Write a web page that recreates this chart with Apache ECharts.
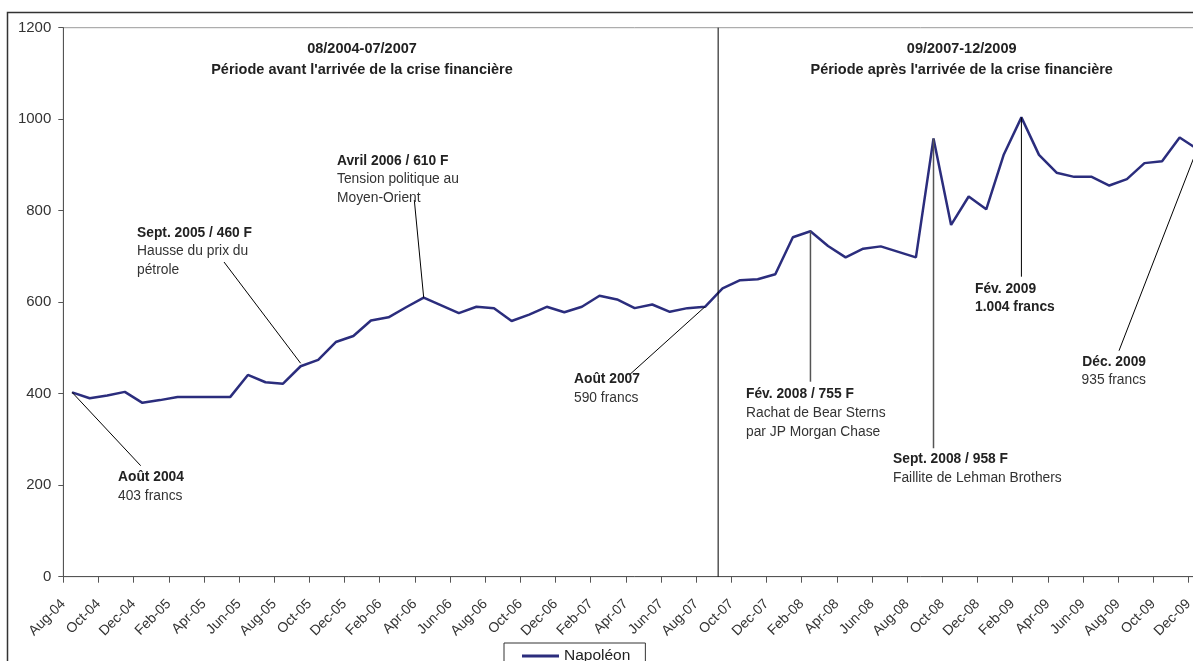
<!DOCTYPE html>
<html><head><meta charset="utf-8">
<script src="https://cdn.jsdelivr.net/npm/echarts@6/dist/echarts.min.js"></script>
<style>html,body{margin:0;padding:0;background:#fff;overflow:hidden}#c{width:1206px;height:661px}</style>
</head><body><div id="c"></div>
<script>
const months = [
  'Aug-04','Sep-04','Oct-04','Nov-04','Dec-04',
  'Jan-05','Feb-05','Mar-05','Apr-05','May-05','Jun-05','Jul-05','Aug-05','Sep-05','Oct-05','Nov-05','Dec-05',
  'Jan-06','Feb-06','Mar-06','Apr-06','May-06','Jun-06','Jul-06','Aug-06','Sep-06','Oct-06','Nov-06','Dec-06',
  'Jan-07','Feb-07','Mar-07','Apr-07','May-07','Jun-07','Jul-07','Aug-07','Sep-07','Oct-07','Nov-07','Dec-07',
  'Jan-08','Feb-08','Mar-08','Apr-08','May-08','Jun-08','Jul-08','Aug-08','Sep-08','Oct-08','Nov-08','Dec-08',
  'Jan-09','Feb-09','Mar-09','Apr-09','May-09','Jun-09','Jul-09','Aug-09','Sep-09','Oct-09','Nov-09','Dec-09'
];
const napoleon = [
  403,390,396,404,380,
  386,393,393,393,393,441,425,422,460,474,513,526,
  560,567,589,610,593,576,590,587,559,573,590,578,
  590,614,606,587,595,579,587,590,630,648,650,661,
  742,755,723,698,717,722,710,698,958,769,831,803,
  923,1004,922,883,874,874,855,869,904,908,960,935
];
const seriesName = 'Napoléon';
const periodTitles = [
  ['08/2004-07/2007', "Période avant l'arrivée de la crise financière"],
  ['09/2007-12/2009', "Période après l'arrivée de la crise financière"]
];
// tick labels sit on the month boundaries (one extra boundary after the last month)
const boundaryLabels = months.concat(['']);

const FONT = '"Liberation Sans", Arial, sans-serif';
const LINE = '#2b2d7d';
const chart = echarts.init(document.getElementById('c'), null, {renderer: 'canvas'});
chart.setOption({
  animation: false,
  backgroundColor: '#fff',
  grid: {left: 63.3, right: 0, top: 27.7, bottom: 84.3, show: true, borderColor: '#9a9a9a', borderWidth: 1, backgroundColor: 'transparent'},
  xAxis: [{
    type: 'category', data: months, boundaryGap: true, position: 'bottom',
    axisLine: {lineStyle: {color: '#555', width: 1}},
    axisTick: {show: false}, axisLabel: {show: false}, splitLine: {show: false}
  }, {
    type: 'category', data: boundaryLabels, boundaryGap: false, position: 'bottom',
    axisLine: {show: false},
    axisTick: {show: true, interval: 1, length: 6, lineStyle: {color: '#555'}},
    axisLabel: {interval: 1, rotate: 45, margin: 25, fontSize: 14, color: '#333', fontFamily: FONT},
    splitLine: {show: false}
  }],
  yAxis: {
    type: 'value', min: 0, max: 1200, interval: 200,
    axisLine: {show: true, lineStyle: {color: '#555'}},
    axisTick: {show: true, length: 5, lineStyle: {color: '#555'}},
    axisLabel: {margin: 12, fontSize: 15, color: '#333', fontFamily: FONT, formatter: v => String(v)},
    splitLine: {show: false}
  },
  legend: {
    show: true, left: 504, top: 643, padding: [5, 15, 5, 18],
    itemWidth: 37, itemHeight: 3, borderColor: '#333', borderWidth: 1, backgroundColor: '#fff',
    textStyle: {fontSize: 15.5, color: '#222', fontFamily: FONT},
    data: [{name: seriesName, icon: 'rect'}]
  },
  series: [{
    type: 'line', name: seriesName, data: napoleon, xAxisIndex: 0, symbol: 'none', showSymbol: false,
    lineStyle: {color: LINE, width: 2.5}, itemStyle: {color: LINE}
  }]
});

function px(i) { return chart.convertToPixel({seriesIndex: 0}, [i, napoleon[i]]); }
const yTop = chart.convertToPixel({yAxisIndex: 0}, 1200);
const yBot = chart.convertToPixel({yAxisIndex: 0}, 0);
const g = [];
g.push({type: 'rect', silent: true, z: 100, shape: {x: 7.5, y: 12.5, width: 1400, height: 900}, style: {fill: null, stroke: '#333', lineWidth: 1.5}});
// divider between periods
const a = px(36), b = px(37);
const xd = a[0] + 0.75 * (b[0] - a[0]);
g.push({type: 'line', silent: true, z: 100, shape: {x1: xd, y1: yTop, x2: xd, y2: yBot}, style: {stroke: '#000', lineWidth: 1}});

function txt(x, y, s, bold, size, align) {
  g.push({type: 'text', silent: true, z: 100, x: x, y: y, style: {
    text: s, fill: bold ? '#222' : '#333', fontSize: size, fontWeight: bold ? 'bold' : 'normal', fontFamily: FONT,
    align: align || 'left', verticalAlign: 'middle'}});
}
function ln(x1, y1, x2, y2, color, w) {
  g.push({type: 'line', silent: true, z: 100, shape: {x1: x1, y1: y1, x2: x2, y2: y2}, style: {stroke: color, lineWidth: w}});
}
// period titles
const TS = 14.5;
txt(362, 49, periodTitles[0][0], true, TS, 'center');
txt(362, 70, periodTitles[0][1], true, TS, 'center');
txt(961.7, 49, periodTitles[1][0], true, TS, 'center');
txt(961.7, 70, periodTitles[1][1], true, TS, 'center');

const AS = 13.8;
let p;
// Août 2004
p = px(0); ln(140.7, 465.7, p[0], p[1], '#000', 1);
txt(118, 477, 'Août 2004', true, AS); txt(118, 496.5, '403 francs', false, AS);
// Sept 2005
p = px(13); ln(224, 262, p[0], p[1] - 3, '#000', 1);
txt(137, 233, 'Sept. 2005 / 460 F', true, AS); txt(137, 251.5, 'Hausse du prix du', false, AS); txt(137, 270, 'pétrole', false, AS);
// Avril 2006
p = px(20); ln(414.3, 200, p[0], p[1], '#000', 1);
txt(337, 161, 'Avril 2006 / 610 F', true, AS); txt(337, 179.5, 'Tension politique au', false, AS); txt(337, 198.5, 'Moyen-Orient', false, AS);
// Août 2007
p = px(36); ln(630, 374.3, p[0], p[1], '#000', 1);
txt(574, 379, 'Août 2007', true, AS); txt(574, 398, '590 francs', false, AS);
// Fév 2008
p = px(42); ln(p[0], 381.7, p[0], p[1], '#555', 1.5);
txt(746, 394, 'Fév. 2008 / 755 F', true, AS); txt(746, 413, 'Rachat de Bear Sterns', false, AS); txt(746, 432, 'par JP Morgan Chase', false, AS);
// Sept 2008
p = px(49); ln(p[0], 448.3, p[0], p[1], '#555', 1.5);
txt(893, 459.5, 'Sept. 2008 / 958 F', true, AS); txt(893, 478.5, 'Faillite de Lehman Brothers', false, AS);
// Fév 2009
p = px(54); ln(p[0], 276.7, p[0], p[1], '#000', 1);
txt(975, 289.5, 'Fév. 2009', true, AS); txt(975, 307.5, '1.004 francs', true, AS);
// Déc 2009
p = px(64); ln(1119, 350.7, p[0], p[1], '#000', 1);
txt(1146, 362.5, 'Déc. 2009', true, AS, 'right'); txt(1146, 380.5, '935 francs', false, AS, 'right');

chart.setOption({graphic: {elements: g}});
</script></body></html>
